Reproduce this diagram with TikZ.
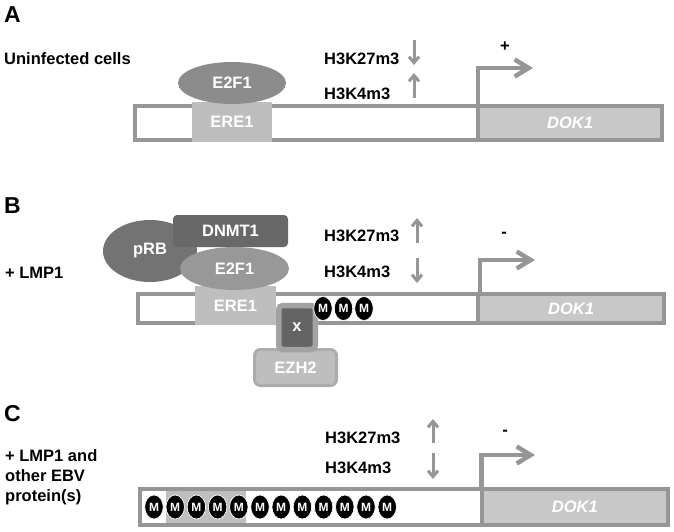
\documentclass[tikz,border=0pt]{standalone}
\usepackage{fontspec}
\setmainfont{Liberation Sans}
\usetikzlibrary{arrows.meta,shapes.geometric}
\definecolor{bargray}{RGB}{150,150,150}
\definecolor{dokgray}{RGB}{200,200,200}
\definecolor{eregray}{RGB}{190,190,190}
\definecolor{e2fagray}{RGB}{140,140,140}
\definecolor{e2fbgray}{RGB}{152,152,152}
\definecolor{prbgray}{RGB}{115,115,115}
\definecolor{dnmgray}{RGB}{104,104,104}
\definecolor{xgray}{RGB}{100,100,100}
\definecolor{xrim}{RGB}{162,162,162}
\definecolor{ezhgray}{RGB}{190,190,190}
\definecolor{ezhrim}{RGB}{172,172,172}

\begin{document}
\begin{tikzpicture}[x=1pt,y=-1pt,
    genebar/.style={draw=bargray,line width=4pt,fill=white},
    dokbox/.style={draw=bargray,line width=4pt,fill=dokgray,inner sep=0,text=white,
      font=\bfseries\itshape\fontsize{16.5}{16.5}\selectfont},
    inbox/.style={inner sep=0,text=white,font=\bfseries\fontsize{16.5}{16.5}\selectfont},
    lbl/.style={anchor=west,inner sep=0,font=\bfseries\fontsize{16.5}{20}\selectfont},
    panel/.style={anchor=west,inner sep=0,font=\bfseries\fontsize{23}{23}\selectfont},
    histarr/.style={draw=bargray,line width=3pt,-{Straight Barb[length=6pt,width=10pt]}},
    promarr/.style={draw=bargray,line width=4.5pt,-{Straight Barb[length=14pt,width=17pt]}},
    mdot/.style={ellipse,fill=black,draw=white,line width=0.7pt,minimum width=18.5pt,
      minimum height=24pt,inner sep=0,text=white,font=\bfseries\fontsize{12}{12}\selectfont}]
  \useasboundingbox (0,0) rectangle (674,532);

  % A
  \node[panel] (labA) at (4,15) {A};
  \node[lbl] (uninf) at (4,59) {Uninfected cells};
  \draw[genebar] (135,106) rectangle (662,140);
  \node[dokbox,minimum width=184pt,minimum height=34pt] (dokA) at (570,123) {DOK1};
  \node[inbox,fill=eregray,minimum width=80pt,minimum height=40pt] (ereA) at (232,122) {ERE1};
  \node[inbox,ellipse,fill=e2fagray,minimum width=108pt,minimum height=42pt] (e2fA) at (232,83) {E2F1};
  \node[lbl] (kmA) at (324,59) {H3K27m3};
  \node[lbl] (kfA) at (324,94) {H3K4m3};
  \draw[histarr] (414,40) -- (414,65);
  \draw[histarr] (414,98) -- (414,73);
  \draw[promarr] (478,104) |- (533,68);
  \node[lbl,anchor=center] (plusA) at (505,47) {+};

  % B
  \node[panel] (labB) at (4,205.5) {B};
  \node[lbl] (lmpB) at (5,272.5) {+ LMP1};
  \draw[genebar] (138,294) rectangle (664,323);
  \node[dokbox,minimum width=186pt,minimum height=29pt] (dokB) at (571,308.5) {DOK1};
  \node[inbox,fill=eregray,minimum width=81pt,minimum height=39pt] (ereB) at (235.5,305.5) {ERE1};
  \node[inbox,ellipse,fill=prbgray,minimum width=94pt,minimum height=62pt] (prb) at (150,251) {pRB};
  \node[inbox,fill=dnmgray,rounded corners=4pt,minimum width=115pt,minimum height=32pt] (dnmt) at (230.5,231) {DNMT1};
  \node[inbox,ellipse,fill=e2fbgray,minimum width=109pt,minimum height=43pt] (e2fB) at (234.5,268.5) {E2F1};
  \node[inbox,fill=ezhgray,draw=ezhrim,line width=3pt,rounded corners=6pt,minimum width=82pt,minimum height=36pt] (ezh) at (295.5,367.5) {EZH2};
  \node[inbox,fill=xgray,draw=xrim,line width=5.5pt,rounded corners=4pt,minimum width=36.5pt,minimum height=44pt] (xbox) at (297,327.5) {x};
  \foreach \mx [count=\i] in {323,343.5,364}
    \node[mdot] (mB\i) at (\mx,308.5) {M};
  \node[lbl] (kmB) at (324,236) {H3K27m3};
  \node[lbl] (kfB) at (324,272) {H3K4m3};
  \draw[histarr] (417,243) -- (417,218);
  \draw[histarr] (417,258) -- (417,283);
  \draw[promarr] (480,292) |- (535,260);
  \node[lbl,anchor=center] (minB) at (504,235) {-};

  % C
  \node[panel] (labC) at (4,414) {C};
  \node[lbl,align=left] (lmpC) at (5,477) {+ LMP1 and\\other EBV\\protein(s)};
  \draw[genebar] (140,489) rectangle (668,525);
  \fill[eregray] (166,491) rectangle (246,523);
  \node[dokbox,minimum width=186.5pt,minimum height=36pt] (dokC) at (574.75,507) {DOK1};
  \foreach \i in {0,...,11}
    \node[mdot] (mC\i) at ({154+21.2*\i},507) {M};
  \node[lbl] (kmC) at (325,437.5) {H3K27m3};
  \node[lbl] (kfC) at (325,468) {H3K4m3};
  \draw[histarr] (433,443) -- (433,419);
  \draw[histarr] (433,453) -- (433,479);
  \draw[promarr] (481.5,487) |- (535,455);
  \node[lbl,anchor=center] (minC) at (505,433) {-};
\end{tikzpicture}
\end{document}
